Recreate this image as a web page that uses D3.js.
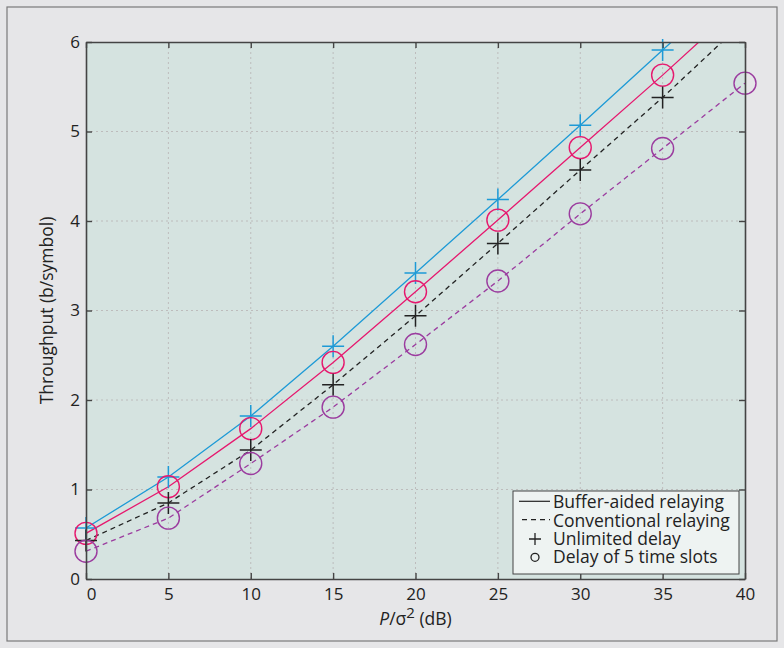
<!DOCTYPE html>
<html><head><meta charset="utf-8">
<script src="https://cdn.jsdelivr.net/npm/d3@7"></script>
<style>
body{margin:0;background:#e6e6e8;}
text{font-family:"Open Sans",sans-serif;}
</style></head>
<body><svg id="c" width="784" height="648"></svg>
<script>
const xValues = [0, 5, 10, 15, 20, 25, 30, 35, 40];
const bufferUnlimited = [0.57, 1.14, 1.82, 2.60, 3.42, 4.24, 5.07, 5.91, 6.75];
const bufferDelay5 = [0.51, 1.03, 1.68, 2.42, 3.21, 4.01, 4.82, 5.63, 6.47];
const convUnlimited = [0.43, 0.85, 1.44, 2.17, 2.94, 3.75, 4.57, 5.38, 6.24];
const convDelay5 = [0.31, 0.68, 1.29, 1.92, 2.62, 3.33, 4.08, 4.81, 5.54];
const xTicks = [0, 5, 10, 15, 20, 25, 30, 35, 40];
const yTicks = [0, 1, 2, 3, 4, 5, 6];
const legendLabels = ["Buffer-aided relaying", "Conventional relaying", "Unlimited delay", "Delay of 5 time slots"];

const svg = d3.select("#c");
const L = 86, R = 745, T = 42, B = 579;
const x = d3.scaleLinear().domain([0, 40]).range([L, R]);
const y = d3.scaleLinear().domain([0, 6]).range([B, T]);

svg.append("rect").attr("width", 784).attr("height", 648).attr("fill", "#e6e6e8");
svg.append("rect").attr("x", 7).attr("y", 7).attr("width", 770).attr("height", 634)
  .attr("fill", "#e6e6e8").attr("stroke", "#7a7a7a").attr("stroke-width", 1.2);
svg.append("rect").attr("x", L).attr("y", T).attr("width", R - L).attr("height", B - T).attr("fill", "#d5e3e0");

// grid
const grid = svg.append("g").attr("stroke", "#bdbcbc").attr("stroke-width", 1).attr("stroke-dasharray", "2,3");
xTicks.slice(1, -1).forEach(v => grid.append("line").attr("x1", x(v)).attr("x2", x(v)).attr("y1", T).attr("y2", B));
yTicks.slice(1, -1).forEach(v => grid.append("line").attr("y1", y(v)).attr("y2", y(v)).attr("x1", L).attr("x2", R));

svg.append("defs").append("clipPath").attr("id", "clip")
  .append("rect").attr("x", L).attr("y", T).attr("width", R - L).attr("height", B - T);

const series = [
  {vals: bufferUnlimited, color: "#1d9ad6", dash: null, marker: "plus"},
  {vals: bufferDelay5, color: "#e6186e", dash: null, marker: "circle"},
  {vals: convUnlimited, color: "#222222", dash: "5,4", marker: "plus"},
  {vals: convDelay5, color: "#9b3c9f", dash: "5,4", marker: "circle"}
];
const line = d3.line().x((d, i) => x(xValues[i])).y(d => y(d));
const lg = svg.append("g").attr("clip-path", "url(#clip)");
series.forEach(s => {
  lg.append("path").attr("d", line(s.vals)).attr("fill", "none").attr("stroke", s.color)
    .attr("stroke-width", 1.3).attr("stroke-dasharray", s.dash);
});
series.forEach(s => {
  const g = svg.append("g");
  s.vals.forEach((v, i) => {
    if (v > 6) return;
    const cx = x(xValues[i]), cy = y(v);
    if (s.marker === "circle") {
      g.append("circle").attr("cx", cx).attr("cy", cy).attr("r", 11).attr("fill", "none")
        .attr("stroke", s.color).attr("stroke-width", 1.4);
    } else {
      g.append("path").attr("d", `M${cx - 11},${cy}H${cx + 11}M${cx},${cy - 11}V${cy + 11}`)
        .attr("stroke", s.color).attr("stroke-width", 1.5).attr("fill", "none");
    }
  });
});

// axes
const axStyle = g => {
  g.selectAll(".domain").attr("stroke", "#444").attr("stroke-width", 1.6);
  g.selectAll(".tick line").attr("stroke", "#444").attr("stroke-width", 1.4);
  g.selectAll("text").attr("font-family", "Open Sans").attr("font-size", 17).attr("fill", "#222");
};
svg.append("g").attr("transform", `translate(0,${B})`)
  .call(d3.axisBottom(x).tickValues(xTicks).tickSize(-6).tickSizeOuter(0).tickPadding(9).tickFormat(d3.format("d")))
  .call(axStyle)
  .call(g => g.selectAll(".tick text").filter(d => d === 0).attr("dx", 5));
svg.append("g").attr("transform", `translate(${L},0)`)
  .call(d3.axisLeft(y).tickValues(yTicks).tickSize(-6).tickSizeOuter(0).tickPadding(6).tickFormat(d3.format("d")))
  .call(axStyle);
svg.append("g").attr("transform", `translate(0,${T})`)
  .call(d3.axisTop(x).tickValues(xTicks).tickSize(-6).tickSizeOuter(0).tickFormat(""))
  .call(axStyle);
svg.append("g").attr("transform", `translate(${R},0)`)
  .call(d3.axisRight(y).tickValues(yTicks).tickSize(-6).tickSizeOuter(0).tickFormat(""))
  .call(axStyle);

// axis labels
svg.append("text").attr("transform", `translate(53,${(T + B) / 2}) rotate(-90)`)
  .attr("text-anchor", "middle").attr("font-size", 17.5).attr("fill", "#222").text("Throughput (b/symbol)");
const xl = svg.append("text").attr("x", (L + R) / 2).attr("y", 625).attr("text-anchor", "middle")
  .attr("font-size", 17.5).attr("fill", "#222");
xl.append("tspan").attr("font-style", "italic").text("P");
xl.append("tspan").text("/σ");
xl.append("tspan").attr("dy", -7).attr("font-size", 15).text("2");
xl.append("tspan").attr("dy", 7).text(" (dB)");

// legend
const leg = svg.append("g");
leg.append("rect").attr("x", 513).attr("y", 491).attr("width", 226).attr("height", 83)
  .attr("fill", "#eef3f2").attr("stroke", "#444").attr("stroke-width", 1);
const rowY = [508.3, 526.7, 545, 563.3];
legendLabels.forEach((t, i) => {
  leg.append("text").attr("x", 553).attr("y", rowY[i]).attr("font-size", 17.5).attr("fill", "#222").text(t);
});
leg.append("line").attr("x1", 519).attr("x2", 550).attr("y1", rowY[0] - 7).attr("y2", rowY[0] - 7)
  .attr("stroke", "#222").attr("stroke-width", 1.2);
leg.append("line").attr("x1", 522).attr("x2", 550).attr("y1", rowY[1] - 7).attr("y2", rowY[1] - 7)
  .attr("stroke", "#222").attr("stroke-width", 1.2).attr("stroke-dasharray", "5,4");
const pc = 535, py = rowY[2] - 6;
leg.append("path").attr("d", `M${pc - 6},${py}H${pc + 6}M${pc},${py - 6}V${py + 6}`).attr("stroke", "#222").attr("stroke-width", 1.3);
leg.append("circle").attr("cx", 535).attr("cy", rowY[3] - 6).attr("r", 4).attr("fill", "none").attr("stroke", "#222").attr("stroke-width", 1.3);
</script></body></html>
